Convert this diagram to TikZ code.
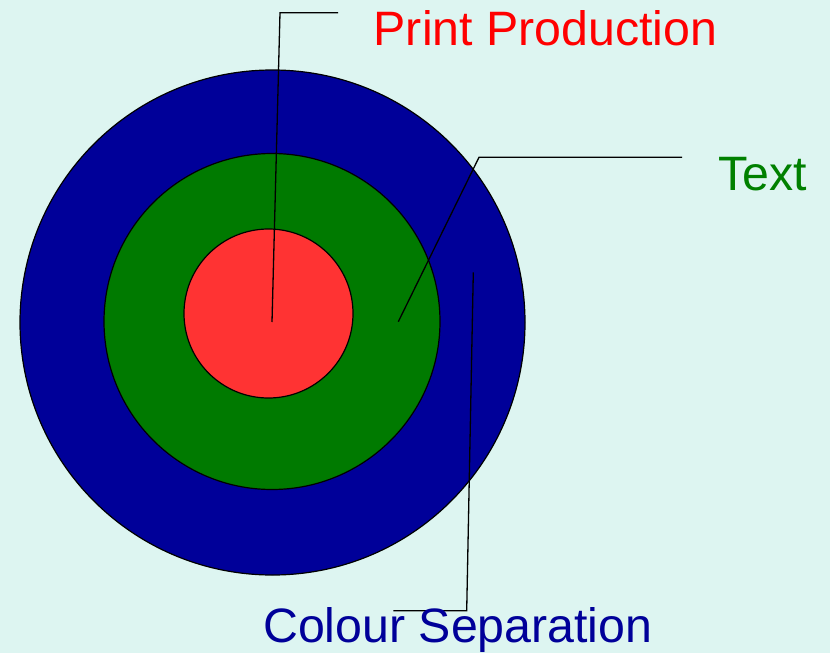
\documentclass[tikz,border=0pt]{standalone}
\usepackage{fontspec}
\setmainfont{Liberation Sans}
\definecolor{bgc}{HTML}{DDF5F1}
\definecolor{blueC}{HTML}{000099}
\definecolor{greenC}{HTML}{007A00}
\definecolor{redC}{HTML}{FF3333}
\definecolor{greenT}{HTML}{008000}
\definecolor{blueT}{HTML}{000099}
\begin{document}
\begin{tikzpicture}[x=1pt,y=-1pt,
  ring/.style={draw=black,line width=1.2pt},
  lead/.style={draw=black,line width=1.3pt},
  lbl/.style={anchor=base west,inner sep=0pt,font=\fontsize{48.3}{50}\selectfont}]
\fill[bgc] (0,0) rectangle (830,653);
\useasboundingbox (0,0) rectangle (830,653);
\path[ring,fill=blueC] (272.5,322.5) circle[radius=252.5];
\path[ring,fill=greenC] (272,321.5) circle[radius=168];
\path[ring,fill=redC] (268.5,313.5) circle[radius=84.5];
\coordinate (p1) at (272,322);
\coordinate (p2) at (280,12.7);
\coordinate (p3) at (338,12.7);
\coordinate (t1) at (398.3,321.7);
\coordinate (t2) at (479,157.3);
\coordinate (t3) at (682,157.3);
\coordinate (c1) at (473.3,272.3);
\coordinate (c2) at (466.7,610.7);
\coordinate (c3) at (393.3,610.7);
\draw[lead] (p1) -- (p2) -- (p3);
\draw[lead] (t1) -- (t2) -- (t3);
\draw[lead] (c1) -- (c2) -- (c3);
\node[lbl,text=red] (lp) at (373.5,45.7) {Print Production};
\node[lbl,text=greenT] (lt) at (718.5,190.7) {Text};
\node[lbl,text=blueT] (lc) at (263,642.3) {Colour Separation};
\end{tikzpicture}
\end{document}
